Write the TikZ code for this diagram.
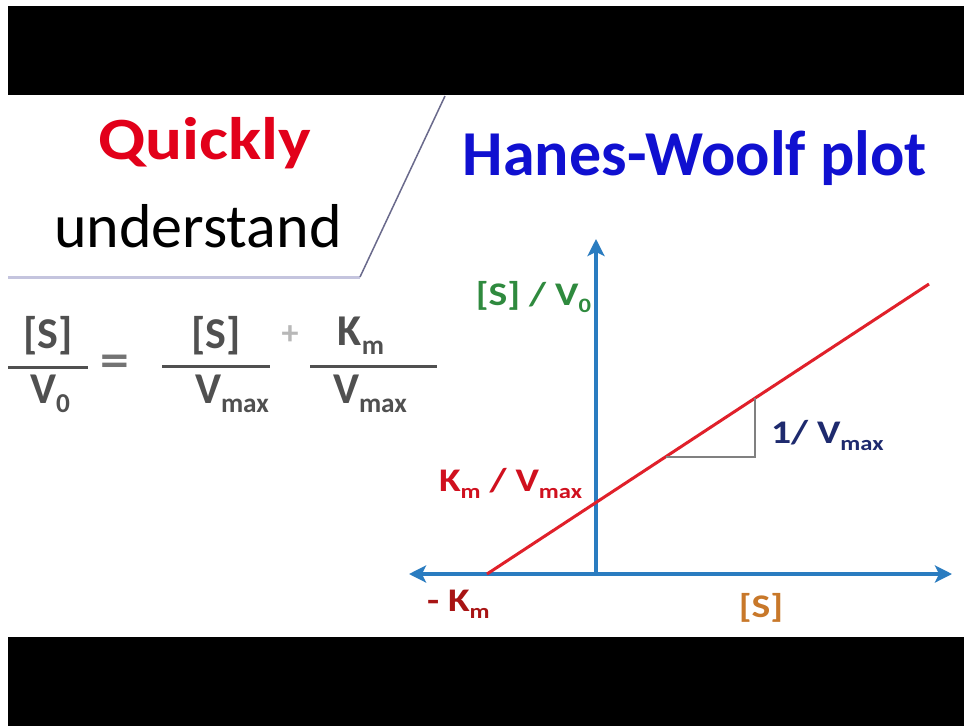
\documentclass[tikz,border=0pt]{standalone}
\usepackage{fontspec}
\usepackage{graphicx}
\setmainfont{Carlito}
\usetikzlibrary{arrows.meta,calc}
\newcommand\lsub[1]{\raisebox{-0.22em}{\scalebox{0.62}{#1}}}
\newcommand\fsz[1]{\fontsize{#1}{#1}\selectfont}
\newcommand\wx[1]{\scalebox{1.2}[1]{#1}}
\definecolor{qred}{HTML}{E2001A}
\definecolor{hwblue}{HTML}{1010D0}
\definecolor{axblue}{HTML}{2A7CC0}
\definecolor{lnred}{HTML}{E0202A}
\definecolor{eqgray}{HTML}{505050}
\definecolor{plusgray}{HTML}{B8B8B8}
\definecolor{ygreen}{HTML}{2F8A3E}
\definecolor{kred}{HTML}{D0101E}
\definecolor{dkred}{HTML}{A81414}
\definecolor{sorange}{HTML}{C8782A}
\definecolor{navy}{HTML}{1E2A6E}
\definecolor{panelbot}{HTML}{C4C4DE}
\definecolor{panelslant}{HTML}{6A6A8C}
\tikzset{
  x=1pt, y=-1pt,
  txt/.style={inner sep=0pt, outer sep=0pt},
  eqtxt/.style={txt, text=eqgray, font=\fsz{44}\bfseries},
  fbar/.style={draw=eqgray, line width=3pt},
  axis/.style={draw=axblue, line width=3.6pt, -{Stealth[length=17pt,width=17pt,inset=4pt]}},
  biaxis/.style={draw=axblue, line width=3.6pt, {Stealth[length=17pt,width=17pt,inset=4pt]}-{Stealth[length=17pt,width=17pt,inset=4pt]}},
  fitline/.style={draw=lnred, line width=3pt},
  slopetri/.style={draw=gray, line width=2pt},
  lbl/.style={txt, font=\fsz{33}\bfseries},
}
\begin{document}
\begin{tikzpicture}
\useasboundingbox (0,0) rectangle (964,726);
\fill[white] (0,0) rectangle (964,726);
% black bands
\fill[black] (8,6) rectangle (964,95);
\fill[black] (8,637) rectangle (964,726);
% panel outline
\draw[panelbot, line width=3pt] (8,277) -- (360,277);
\draw[panelslant, line width=1.5pt] (360,277) -- (445,96);
% titles
\node[txt, anchor=base, text=qred, font=\fsz{60}\bfseries] (quick) at (205,159) {\scalebox{1.15}[1]{Quickly}};
\node[txt, anchor=base, text=black, font=\fsz{62}] (under) at (198,247) {understand};
\node[txt, anchor=base, text=hwblue, font=\fsz{64}\bfseries] (hw) at (695,175) {Hanes-Woolf plot};
% equation
\draw[fbar] (8,367) -- (88,367);
\node[eqtxt, anchor=base] (n1) at (48,348) {[S]};
\node[eqtxt, anchor=base] (d1) at (50,403) {V\lsub{0}};
\node[txt, anchor=center, text=eqgray!80, font=\fsz{48}\bfseries] (eq) at (115,366) {\scalebox{1.2}[1]{=}};
\draw[fbar] (162,366) -- (270,366);
\node[eqtxt, anchor=base] (n2) at (216,348) {[S]};
\node[eqtxt, anchor=base] (d2) at (232,403) {V\lsub{max}};
\node[txt, anchor=center, text=plusgray, font=\fsz{34}\bfseries] (plus) at (290,335) {+};
\draw[fbar] (310,366) -- (437,366);
\node[eqtxt, anchor=base] (n3) at (361,345) {K\lsub{m}};
\node[eqtxt, anchor=base] (d3) at (370,403) {V\lsub{max}};
% axes
\coordinate (O) at (596,574);
\coordinate (ytop) at (596,239);
\coordinate (xl) at (409,574);
\coordinate (xr) at (952,574);
\draw[biaxis] (xl) -- (xr);
\draw[axis] (O) -- (ytop);
% fitted line
\coordinate (l0) at (487,574);
\coordinate (l1) at (929,284);
\draw[fitline] (l0) -- (l1);
\coordinate (p1) at ($(l0)!0.405!(l1)$);
\coordinate (p2) at ($(l0)!0.606!(l1)$);
\draw[slopetri] (p1) -| (p2);
% labels
\node[lbl, anchor=base east, text=ygreen] (ylab) at (591,305) {\wx{[S] / V\lsub{0}}};
\node[lbl, anchor=base west, text=kred] (kv) at (439,491) {\wx{K\lsub{m} / V\lsub{max}}};
\node[lbl, anchor=base west, text=dkred] (mk) at (427,611) {\wx{- K\lsub{m}}};
\node[lbl, anchor=base, text=sorange] (xlab) at (761,617) {\wx{[S]}};
\node[lbl, anchor=base west, text=navy] (slope) at (771,443) {\wx{1/ V\lsub{max}}};
\end{tikzpicture}
\end{document}
